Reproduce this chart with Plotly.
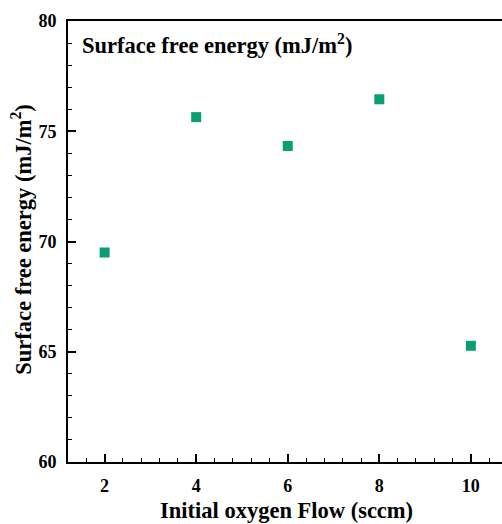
import plotly.graph_objects as go

oxygen_flow = [2, 4, 6, 8, 10]
surface_energy = [69.5, 75.64, 74.33, 76.45, 65.27]
x_ticks = [2, 4, 6, 8, 10]
y_ticks = [60, 65, 70, 75, 80]

FONT = "Liberation Serif"
L, T, B, H, W = 67.5, 21, 62.3, 524, 502
PW = W - L
PH = H - T - B

fig = go.Figure()
fig.add_trace(go.Scatter(
    x=oxygen_flow, y=surface_energy, mode="markers",
    marker=dict(symbol="square", size=10, color="#0a9e73", line=dict(width=0)),
    showlegend=False,
))

tickfont = dict(family=FONT, size=18, color="black", weight="bold")
titlefont = dict(family=FONT, size=22.5, color="black")

def px_x(px):
    return (px - L) / PW

def px_y(py):
    return (H - B - py) / PH

fig.update_layout(
    width=W, height=H,
    margin=dict(l=L, r=0, t=T, b=B, pad=0),
    paper_bgcolor="white", plot_bgcolor="white",
    font=dict(family=FONT, color="black"),
    xaxis=dict(
        range=[1.2, 10.68], tickvals=x_ticks, ticktext=[str(v) for v in x_ticks],
        ticks="inside", ticklen=8, tickwidth=1.5, tickcolor="black",
        minor=dict(dtick=0.4, tick0=0, ticks="inside", ticklen=4, tickwidth=1.2, tickcolor="black"),
        showline=True, linecolor="black", linewidth=2, mirror=True,
        showgrid=False, zeroline=False,
        tickfont=tickfont,
        ticklabelstandoff=6,
    ),
    yaxis=dict(
        range=[60, 80], tickvals=y_ticks, ticktext=[str(v) for v in y_ticks],
        ticks="inside", ticklen=8, tickwidth=1.5, tickcolor="black",
        minor=dict(dtick=1, tick0=0, ticks="inside", ticklen=4, tickwidth=1.2, tickcolor="black"),
        showline=True, linecolor="black", linewidth=2,
        showgrid=False, zeroline=False,
        tickfont=tickfont,
        ticklabelstandoff=6,
    ),
    annotations=[
        dict(
            text="<b>Surface free energy (mJ/m<sup>2</sup>)</b>",
            xref="paper", yref="paper", x=px_x(80), y=px_y(44),
            xanchor="left", yanchor="middle", showarrow=False, font=titlefont,
        ),
        dict(
            text="<b>Initial oxygen Flow (sccm)</b>",
            xref="paper", yref="paper", x=px_x(286), y=px_y(510.5),
            xanchor="center", yanchor="middle", showarrow=False, font=titlefont,
        ),
        dict(
            text="<b>Surface free energy (mJ/m<sup>2</sup>)</b>",
            xref="paper", yref="paper", x=px_x(21), y=px_y(240),
            xanchor="center", yanchor="middle", showarrow=False, font=titlefont,
            textangle=-90,
        ),
    ],
)

fig.write_html("out.html")
